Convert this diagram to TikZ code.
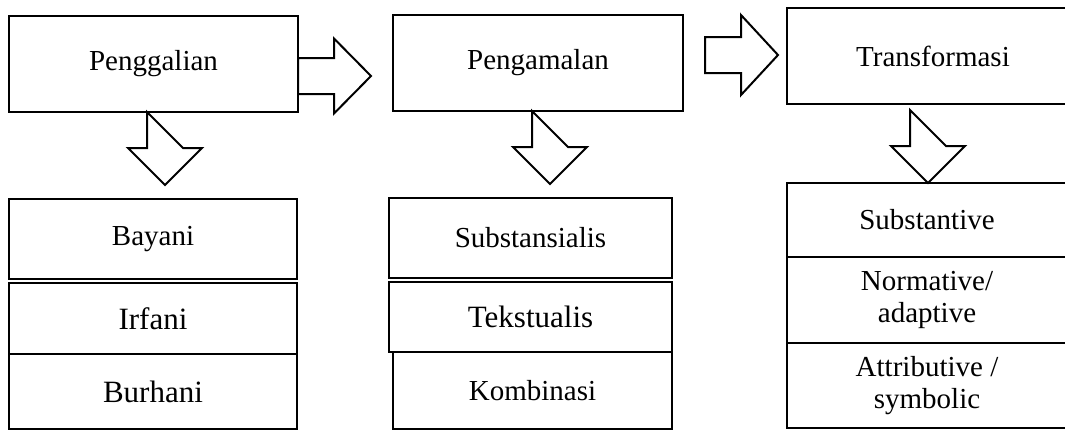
\documentclass[tikz,border=0pt]{standalone}
\usepackage{fontspec}
\setmainfont{Liberation Serif}
\usetikzlibrary{calc}

\tikzset{
	box/.style={draw, line width=1.2pt, inner sep=2pt, outer sep=0pt, align=center,
		font=\fontsize{14.5}{16}\selectfont},
	bigtxt/.style={font=\fontsize{15.5}{17}\selectfont},
	blk/.style={draw, line width=1pt, fill=white, line join=miter},
	pics/downblk/.style={code={
		\draw[blk] (-18,0) -- (-18,36) -- (-37,36) -- (0,73) -- (37,36) -- (18,36) -- cycle;}},
	pics/rightblk/.style={code={
		\draw[blk] (0,-18) -- (36,-18) -- (36,-#1) -- (73,0) -- (36,#1) -- (36,18) -- (0,18) -- cycle;}},
}

\begin{document}
\begin{tikzpicture}[x=0.5pt, y=-0.5pt]
				\useasboundingbox (0,0) rectangle (1065,430);
				% top row
				\node[box, minimum width=144.5pt, minimum height=48pt] (pg) at (153.5, 64) {Penggalian};
				\node[box, minimum width=145pt, minimum height=48pt] (pm) at (538, 63) {Pengamalan};
				\node[box, minimum width=146pt, minimum height=48pt] (tf) at (933, 56) {Transformasi};
				% first column
				\node[box, minimum width=144pt, minimum height=40pt] (by) at (153, 239) {Bayani};
				\node[box, bigtxt, minimum width=144pt, minimum height=35.5pt] (ir) at (153, 318.5) {Irfani};
				\node[box, bigtxt, minimum width=144pt, minimum height=37.5pt] (bh) at (153, 391.5) {Burhani};
				% second column
				\node[box, minimum width=141.5pt, minimum height=40pt] (sb) at (530.5, 238) {Substansialis};
				\node[box, bigtxt, minimum width=141.5pt, minimum height=35pt] (tk) at (530.5, 317) {Tekstualis};
				\node[box, minimum width=139.5pt, minimum height=38.5pt] (kb) at (532.5, 390.5) {Kombinasi};
				% third column
				\node[box, minimum width=140pt, minimum height=37pt] (st) at (927, 220) {Substantive};
				\node[box, minimum width=140pt, minimum height=43pt] (nm) at (927, 300) {Normative/\\adaptive};
				\node[box, minimum width=140pt, minimum height=42.5pt] (at) at (927, 385.5) {Attributive /\\symbolic};
				% block arrows
				\pic at ($(pg.east)+(0,12)$) {rightblk=37.5};
				\pic at ($(pm.east)+(22,-8)$) {rightblk=40};
				\pic at ($(pg.south)+(11.5,0)$) {downblk};
				\pic at ($(pm.south)+(12,0)$) {downblk};
				\pic at ($(tf.south)+(-5,6)$) {downblk};
			\end{tikzpicture}
\end{document}
